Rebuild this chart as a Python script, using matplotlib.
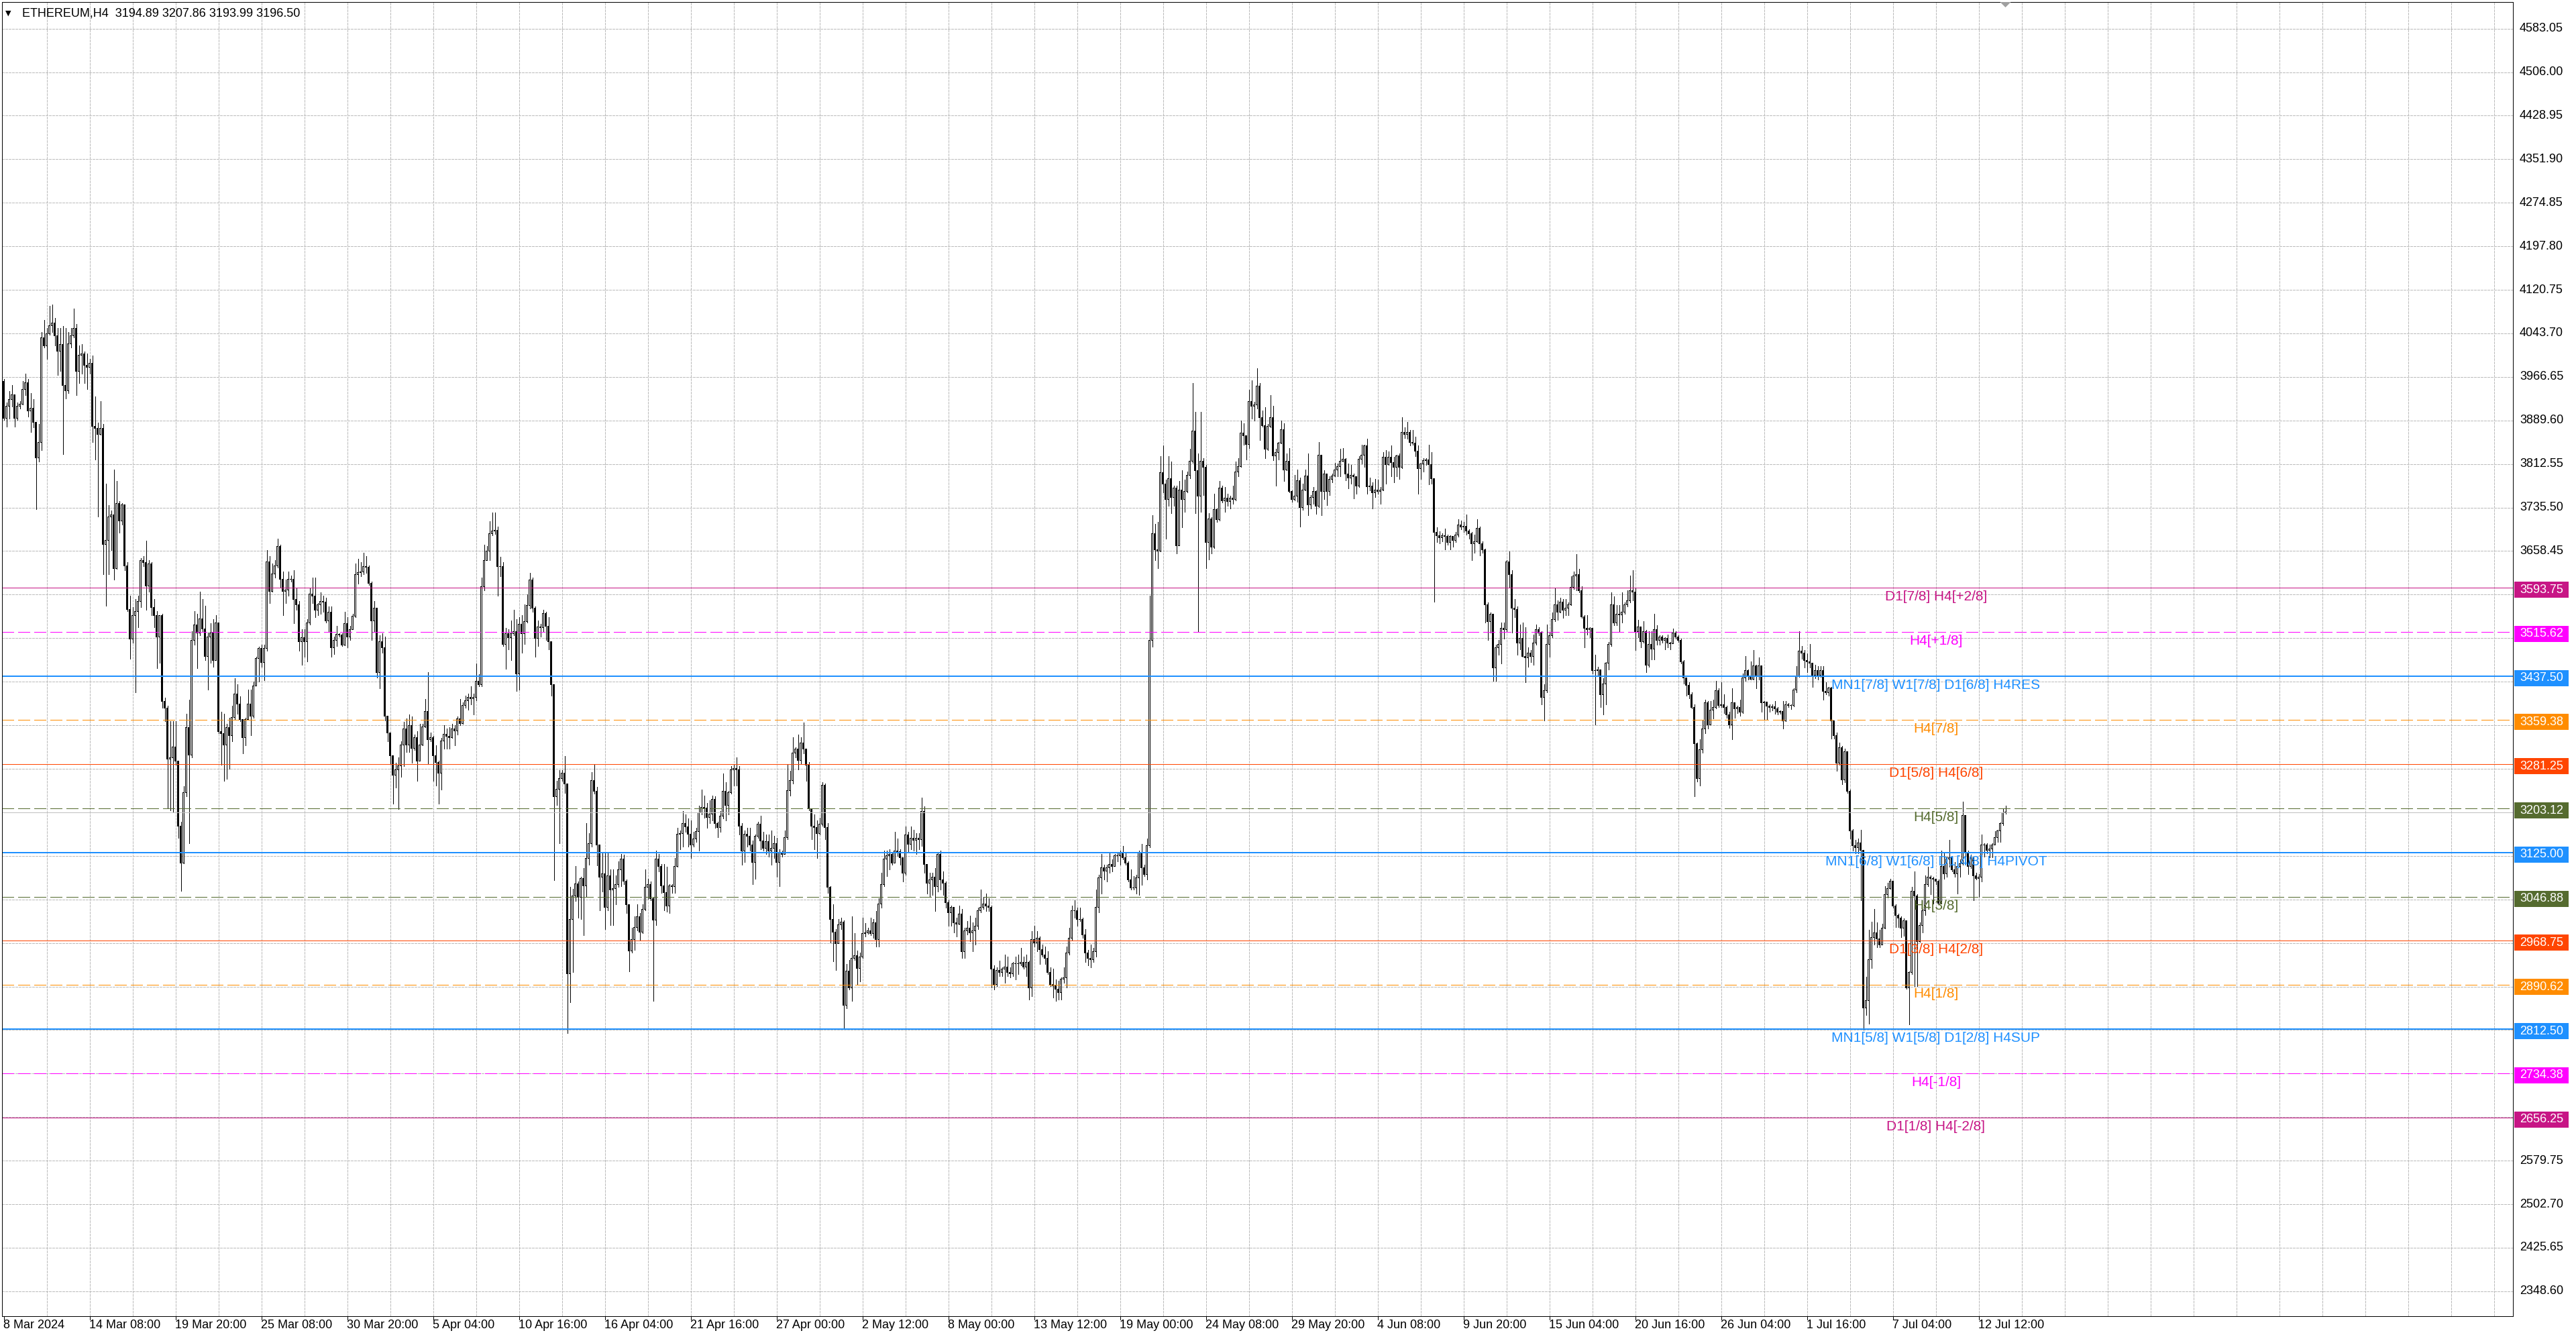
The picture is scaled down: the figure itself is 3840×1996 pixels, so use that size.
import numpy as np
import matplotlib
matplotlib.use("Agg")
import matplotlib.pyplot as plt
from matplotlib.collections import LineCollection, PolyCollection
from matplotlib.patches import Rectangle, Polygon
from matplotlib.lines import Line2D
from matplotlib.transforms import blended_transform_factory

plt.rcParams['font.family'] = ['Liberation Sans', 'DejaVu Sans']

# ---------------- data ----------------
symbol = "ETHEREUM,H4"
last_ohlc = [3194.89, 3207.86, 3193.99, 3196.50]
first_open = 3959.0

close = [
3893,3915,3927,3935,3893,3915,3918,3945,3956,3907,
3911,3886,3824,3851,4036,4022,4043,4057,4062,4039,
4012,4024,3952,3942,4025,4039,4053,3977,4005,4008,
3987,3984,3991,3879,3876,3865,3876,3670,3677,3719,
3722,3627,3743,3712,3740,3632,3555,3503,3545,3552,
3569,3642,3638,3597,3636,3559,3545,3507,3545,3392,
3381,3291,3293,3312,3287,3172,3106,3231,3346,3298,
3500,3528,3514,3538,3521,3472,3507,3514,3465,3531,
3339,3336,3315,3346,3332,3364,3406,3388,3360,3329,
3360,3388,3367,3420,3468,3486,3461,3486,3639,3587,
3618,3632,3667,3608,3587,3590,3608,3609,3573,3563,
3498,3505,3498,3532,3582,3579,3554,3563,3570,3568,
3535,3551,3488,3501,3511,3510,3492,3530,3507,3520,
3543,3617,3620,3622,3631,3630,3601,3535,3557,3444,
3498,3488,3366,3337,3296,3262,3271,3278,3315,3344,
3315,3350,3309,3328,3287,3315,3347,3375,3325,3329,
3296,3284,3265,3322,3334,3331,3328,3344,3340,3362,
3353,3386,3394,3400,3397,3400,3428,3422,3595,3642,
3658,3689,3694,3695,3631,3631,3494,3513,3505,3513,
3516,3441,3529,3513,3534,3562,3607,3557,3504,3524,
3523,3548,3526,3498,3422,3224,3237,3256,3266,3247,
2910,3007,3048,3070,3046,3079,3066,3115,3141,3252,
3234,3139,3082,3087,3028,3084,3059,3061,3069,3095,
3113,3074,3033,2951,2971,2992,3012,2984,3025,3064,
3069,3043,3005,3113,3100,3066,3054,3030,3066,3065,
3101,3157,3159,3177,3171,3158,3139,3149,3162,3195,
3205,3204,3187,3193,3219,3177,3169,3190,3234,3208,
3231,3272,3274,3272,3172,3128,3157,3154,3139,3108,
3154,3175,3146,3133,3144,3128,3133,3141,3108,3126,
3122,3151,3235,3252,3301,3308,3288,3319,3308,3280,
3203,3172,3169,3159,3175,3244,3169,3064,3007,2984,
2964,2997,3002,2855,2915,2886,2938,2943,2920,2940,
2982,2983,2986,2982,3001,2971,3034,3068,3113,3119,
3122,3107,3128,3127,3116,3089,3156,3140,3150,3147,
3150,3148,3198,3104,3071,3077,3082,3065,3122,3077,
3071,3037,3019,3028,3001,2998,3016,2950,2986,2991,
2983,2987,2995,3022,3028,3034,3031,3028,2919,2892,
2916,2913,2919,2922,2913,2910,2928,2928,2928,2931,
2922,2931,2886,2971,2965,2974,2953,2944,2938,2913,
2892,2889,2883,2877,2901,2904,2947,2974,3022,3022,
3007,3007,2980,2947,2938,2935,2950,3028,3080,3098,
3092,3098,3104,3101,3119,3119,3125,3116,3107,3077,
3062,3062,3080,3125,3098,3086,3137,3501,3689,3661,
3659,3797,3777,3750,3787,3754,3770,3668,3766,3750,
3764,3793,3817,3871,3801,3756,3817,3807,3674,3716,
3666,3732,3714,3770,3748,3752,3746,3752,3750,3799,
3808,3867,3863,3847,3923,3915,3917,3950,3895,3881,
3839,3879,3895,3827,3833,3849,3873,3802,3817,3764,
3750,3756,3783,3736,3766,3791,3740,3754,3764,3738,
3828,3764,3795,3764,3786,3791,3802,3808,3817,3821,
3795,3788,3793,3790,3774,3821,3828,3845,3772,3774,
3762,3767,3764,3766,3825,3811,3825,3815,3807,3827,
3807,3869,3865,3869,3851,3850,3835,3805,3813,3819,
3820,3811,3787,3692,3686,3682,3686,3684,3674,3684,
3677,3687,3705,3701,3702,3694,3689,3671,3675,3699,
3671,3661,3563,3534,3547,3452,3488,3493,3522,3520,
3640,3617,3558,3555,3496,3504,3472,3470,3478,3472,
3496,3519,3514,3400,3412,3493,3509,3537,3563,3551,
3568,3554,3558,3564,3594,3614,3617,3589,3542,3522,
3520,3522,3447,3447,3448,3405,3423,3460,3493,3563,
3532,3547,3546,3551,3563,3571,3588,3586,3516,3524,
3498,3516,3457,3493,3485,3519,3501,3507,3501,3504,
3496,3495,3514,3506,3500,3462,3434,3421,3404,3382,
3318,3256,3307,3344,3390,3351,3377,3382,3411,3385,
3387,3382,3369,3351,3390,3380,3382,3374,3434,3447,
3436,3432,3455,3436,3455,3390,3391,3384,3382,3383,
3379,3374,3375,3358,3387,3385,3385,3413,3436,3481,
3478,3465,3463,3460,3439,3447,3439,3447,3410,3408,
3416,3358,3332,3283,3311,3254,3304,3233,3163,3137,
3134,3142,3129,2850,2863,2936,2975,2983,2972,2962,
2991,3051,3061,3074,3030,3014,3009,2991,3004,2886,
2913,3056,3048,2967,2996,3022,3069,3082,3079,3078,
3074,3035,3100,3087,3113,3116,3095,3087,3100,3105,
3191,3126,3100,3116,3084,3079,3082,3139,3139,3129,
3131,3139,3152,3163,3176,3194.89,3196.50,
]

high = [
3963,3921,3941,3952,3929,3921,3924,3959,3973,3963,
3938,3927,3883,3883,4046,4067,4053,4092,4095,4071,
4053,4053,4057,4053,4046,4053,4088,4060,4022,4025,
4012,4008,3998,4004,3932,3886,3924,3883,3778,3740,
3730,3803,3782,3747,3743,3681,3639,3580,3559,3573,
3580,3646,3649,3677,3642,3639,3573,3552,3545,3548,
3399,3385,3357,3357,3357,3287,3179,3242,3371,3395,
3517,3552,3548,3587,3573,3562,3514,3531,3538,3545,
3472,3374,3371,3353,3364,3385,3434,3423,3402,3360,
3364,3413,3413,3427,3472,3489,3493,3493,3660,3649,
3636,3642,3681,3670,3622,3608,3622,3615,3625,3592,
3570,3520,3520,3538,3592,3611,3612,3567,3585,3579,
3576,3560,3560,3507,3526,3513,3513,3551,3542,3526,
3548,3636,3645,3639,3655,3650,3633,3604,3570,3557,
3510,3513,3507,3366,3337,3296,3284,3293,3322,3356,
3362,3369,3366,3334,3340,3353,3353,3397,3444,3337,
3331,3315,3287,3328,3350,3344,3347,3353,3350,3366,
3397,3391,3403,3406,3419,3406,3460,3441,3611,3670,
3667,3711,3727,3727,3702,3648,3639,3523,3520,3535,
3554,3538,3542,3545,3564,3582,3620,3611,3560,3535,
3530,3554,3551,3542,3498,3422,3252,3271,3271,3296,
3247,3064,3061,3101,3074,3082,3097,3177,3159,3267,
3280,3241,3139,3126,3126,3126,3095,3095,3084,3110,
3123,3121,3077,3033,2992,3012,3033,3018,3033,3095,
3079,3074,3046,3128,3123,3105,3105,3100,3069,3069,
3115,3169,3164,3198,3193,3185,3182,3162,3169,3208,
3236,3226,3213,3218,3226,3224,3180,3198,3265,3249,
3234,3278,3280,3293,3278,3177,3164,3169,3169,3146,
3157,3180,3190,3162,3157,3157,3164,3154,3151,3131,
3128,3164,3280,3270,3329,3311,3334,3329,3355,3308,
3285,3203,3193,3182,3187,3249,3247,3177,3066,3033,
2989,3007,3010,3005,2928,2935,3012,2982,2951,2948,
3010,3000,2992,3010,3007,3022,3044,3089,3128,3128,
3131,3125,3162,3150,3131,3116,3171,3162,3171,3165,
3159,3159,3222,3207,3104,3089,3089,3098,3125,3128,
3092,3074,3040,3031,3028,3010,3031,3025,2992,3004,
3013,3001,3010,3028,3059,3047,3053,3044,3031,2925,
2922,2934,2922,2944,2941,2922,2931,2941,2944,2956,
2941,2944,2934,2986,2995,2986,2977,2962,2959,2950,
2922,2919,2901,2898,2904,2922,2959,2992,3031,3041,
3028,3028,3010,2989,2953,2962,2956,3059,3086,3122,
3104,3104,3125,3113,3122,3125,3128,3137,3125,3110,
3095,3083,3086,3128,3140,3104,3150,3580,3722,3707,
3710,3827,3845,3785,3827,3817,3774,3774,3783,3801,
3785,3799,3839,3956,3905,3831,3905,3823,3811,3726,
3718,3760,3734,3783,3774,3772,3760,3756,3774,3817,
3823,3889,3885,3861,3944,3960,3923,3982,3956,3907,
3913,3883,3934,3915,3839,3851,3889,3885,3831,3841,
3766,3793,3803,3788,3778,3803,3831,3758,3772,3766,
3851,3829,3801,3793,3791,3795,3815,3813,3839,3841,
3823,3813,3811,3795,3778,3827,3847,3847,3857,3788,
3780,3786,3785,3772,3833,3837,3835,3845,3825,3829,
3831,3895,3877,3887,3873,3873,3861,3845,3815,3823,
3823,3847,3833,3787,3700,3694,3690,3698,3688,3686,
3684,3692,3715,3712,3710,3723,3697,3692,3687,3715,
3702,3676,3663,3568,3550,3542,3493,3501,3532,3532,
3643,3658,3625,3573,3560,3529,3532,3524,3488,3483,
3511,3529,3524,3516,3423,3529,3514,3550,3594,3571,
3576,3573,3573,3568,3614,3622,3653,3627,3596,3545,
3545,3524,3516,3475,3454,3447,3434,3462,3498,3586,
3578,3563,3563,3586,3568,3589,3615,3625,3594,3537,
3519,3534,3519,3516,3516,3547,3527,3509,3509,3506,
3511,3498,3521,3517,3509,3503,3465,3434,3426,3408,
3387,3320,3326,3359,3395,3393,3393,3395,3429,3416,
3426,3405,3385,3374,3416,3382,3385,3395,3442,3473,
3449,3463,3483,3457,3470,3436,3393,3390,3387,3387,
3393,3382,3377,3393,3393,3390,3387,3416,3455,3517,
3491,3483,3478,3494,3460,3457,3455,3455,3455,3426,
3418,3418,3358,3337,3319,3314,3309,3304,3236,3166,
3147,3150,3165,3108,2905,2988,3003,3025,3001,2988,
2999,3066,3072,3079,3051,3033,3017,3012,3009,2996,
2915,3064,3092,3051,3001,3025,3085,3100,3085,3082,
3079,3077,3129,3126,3118,3147,3118,3108,3116,3113,
3215,3191,3129,3121,3100,3089,3087,3157,3142,3142,
3139,3142,3163,3165,3178,3202,3207.86,
]

low = [
3890,3879,3893,3914,3879,3890,3911,3936,3934,3897,
3869,3878,3733,3817,3837,4019,3998,4041,4046,4022,
3970,3977,3830,3928,3938,4019,4036,3935,3956,3973,
3956,3945,3973,3851,3820,3719,3867,3618,3562,3618,
3660,3608,3663,3691,3705,3625,3552,3468,3496,3409,
3524,3559,3632,3555,3587,3545,3524,3451,3461,3381,
3357,3204,3200,3197,3280,3151,3057,3106,3225,3141,
3294,3493,3451,3510,3517,3465,3413,3461,3454,3465,
3336,3280,3252,3256,3273,3322,3360,3371,3357,3301,
3315,3360,3332,3364,3420,3427,3454,3430,3482,3566,
3594,3611,3629,3594,3545,3566,3580,3604,3531,3554,
3482,3457,3472,3463,3529,3567,3542,3545,3548,3551,
3532,3516,3472,3476,3491,3507,3491,3529,3488,3501,
3523,3542,3601,3614,3617,3620,3598,3501,3516,3435,
3416,3479,3359,3322,3281,3212,3240,3202,3259,3278,
3303,3303,3284,3306,3252,3287,3331,3347,3281,3322,
3252,3243,3212,3237,3309,3309,3309,3328,3315,3334,
3350,3378,3381,3378,3387,3369,3394,3419,3419,3589,
3642,3642,3686,3689,3579,3614,3491,3450,3485,3466,
3510,3411,3413,3479,3494,3532,3557,3551,3472,3491,
3507,3516,3501,3485,3403,3076,3209,3142,3252,3230,
2806,2860,2913,3039,3010,3007,2979,3048,3103,3136,
3229,3102,3023,3056,2989,3023,2997,2997,3033,3064,
3066,3069,3018,2915,2948,2953,2987,2969,2982,3023,
3043,3041,2863,2997,3092,3054,3023,3020,3018,3054,
3054,3100,3131,3136,3162,3136,3115,3136,3144,3128,
3193,3187,3169,3177,3182,3169,3152,3162,3185,3182,
3193,3229,3244,3244,3157,3103,3108,3136,3128,3069,
3079,3151,3131,3128,3123,3118,3103,3115,3082,3066,
3118,3128,3149,3226,3247,3293,3272,3283,3301,3252,
3200,3149,3131,3115,3157,3172,3149,3054,2966,2933,
2917,2966,2989,2814,2850,2883,2863,2935,2891,2897,
2938,2976,2981,2979,2974,2959,2959,3028,3065,3083,
3095,3104,3125,3119,3104,3074,3086,3125,3131,3128,
3122,3131,3137,3089,3053,3047,3050,3022,3056,3059,
3050,3028,2995,2995,2983,2977,2998,2938,2938,2980,
2968,2950,2962,2989,3019,3025,3022,3022,2886,2883,
2889,2907,2907,2895,2907,2904,2907,2901,2910,2925,
2919,2907,2865,2871,2959,2950,2928,2941,2928,2910,
2889,2868,2862,2865,2865,2895,2886,2944,2971,3010,
2995,3004,2974,2931,2925,2922,2931,2941,3019,3053,
3077,3074,3089,3092,3107,3110,3104,3113,3104,3074,
3059,3059,3053,3050,3068,3083,3077,3134,3489,3643,
3628,3658,3762,3680,3738,3726,3738,3654,3668,3700,
3728,3762,3787,3815,3726,3517,3728,3758,3628,3644,
3654,3664,3710,3712,3744,3728,3738,3734,3742,3748,
3791,3807,3847,3821,3841,3893,3889,3911,3855,3879,
3823,3837,3877,3819,3774,3821,3849,3782,3801,3762,
3746,3748,3746,3702,3732,3766,3722,3734,3742,3724,
3736,3722,3750,3740,3758,3780,3791,3791,3791,3819,
3784,3770,3778,3752,3760,3772,3813,3807,3760,3766,
3734,3754,3760,3742,3766,3778,3811,3791,3780,3791,
3786,3805,3859,3857,3845,3847,3827,3760,3786,3799,
3811,3776,3778,3569,3674,3672,3676,3662,3670,3662,
3666,3674,3684,3697,3692,3687,3681,3643,3656,3674,
3651,3656,3532,3501,3514,3429,3429,3475,3460,3503,
3516,3594,3514,3542,3475,3485,3471,3426,3454,3462,
3457,3493,3509,3387,3359,3408,3472,3506,3534,3537,
3550,3540,3545,3545,3563,3591,3589,3586,3540,3488,
3511,3506,3442,3351,3439,3382,3369,3387,3449,3491,
3527,3527,3516,3532,3547,3560,3568,3571,3483,3506,
3488,3496,3444,3454,3467,3467,3493,3493,3496,3485,
3488,3485,3501,3503,3498,3460,3424,3403,3398,3380,
3225,3251,3243,3302,3336,3344,3351,3362,3380,3382,
3382,3372,3364,3346,3326,3364,3372,3367,3372,3429,
3431,3431,3431,3416,3431,3374,3361,3361,3374,3377,
3371,3369,3371,3345,3358,3382,3379,3384,3408,3436,
3468,3452,3444,3452,3418,3434,3431,3436,3395,3405,
3403,3327,3327,3270,3280,3246,3249,3231,3150,3129,
3124,3124,3040,2811,2837,2822,2921,2962,2957,2957,
2962,2991,3045,3064,3027,2993,2993,2975,2978,2884,
2821,2910,2889,2889,2967,2983,3014,3066,3051,3035,
3069,3034,3035,3079,3082,3100,3092,3082,3053,3082,
3103,3118,3087,3097,3040,3077,3046,3074,3118,3124,
3116,3116,3142,3144,3144,3173,3193.99,
]

time_labels = ["8 Mar 2024", "14 Mar 08:00", "19 Mar 20:00", "25 Mar 08:00",
               "30 Mar 20:00", "5 Apr 04:00", "10 Apr 16:00", "16 Apr 04:00",
               "21 Apr 16:00", "27 Apr 00:00", "2 May 12:00", "8 May 00:00",
               "13 May 12:00", "19 May 00:00", "24 May 08:00", "29 May 20:00",
               "4 Jun 08:00", "9 Jun 20:00", "15 Jun 04:00", "20 Jun 16:00",
               "26 Jun 04:00", "1 Jul 16:00", "7 Jul 04:00", "12 Jul 12:00"]

price_ticks = [4583.05, 4506.00, 4428.95, 4351.90, 4274.85, 4197.80, 4120.75,
               4043.70, 3966.65, 3889.60, 3812.55, 3735.50, 3658.45, 3581.40,
               3504.35, 3427.30, 3350.25, 3273.20, 3196.15, 3119.10, 3042.05,
               2965.00, 2887.95, 2810.90, 2733.85, 2656.80, 2579.75, 2502.70,
               2425.65, 2348.60]

levels = [3593.75, 3515.62, 3437.50, 3359.38, 3281.25, 3203.12, 3125.00,
          3046.88, 2968.75, 2890.62, 2812.50, 2734.38, 2656.25]
level_names = ["D1[7/8] H4[+2/8]", "H4[+1/8]", "MN1[7/8] W1[7/8] D1[6/8] H4RES",
               "H4[7/8]", "D1[5/8] H4[6/8]", "H4[5/8]",
               "MN1[6/8] W1[6/8] D1[4/8] H4PIVOT", "H4[3/8]", "D1[3/8] H4[2/8]",
               "H4[1/8]", "MN1[5/8] W1[5/8] D1[2/8] H4SUP", "H4[-1/8]",
               "D1[1/8] H4[-2/8]"]
level_colors = ["#C71585", "#FF00FF", "#1E90FF", "#FF8C00", "#FF4500", "#556B2F",
                "#1E90FF", "#556B2F", "#FF4500", "#FF8C00", "#1E90FF", "#FF00FF",
                "#C71585"]
level_dashed = [False, True, False, True, False, True, False, True, False, True,
                False, True, False]
level_width_px = [1, 1, 2, 1, 1, 1, 2, 1, 1, 1, 2, 1, 1]
bid_price = 3196.50

# ---------------- layout (pixels) ----------------
W, H, DPI = 3840, 1996, 100
PX = 72.0 / DPI
L_PX, R_PX, T_PX, B_PX = 3, 3746, 3, 1962
BAR0_PX, BAR_STEP = 5.5, 4.0
REF_PRICE, REF_Y, PPP = 3593.75, 876.0, 1.1871
LABEL_STEP = 32
GRID_STEP = 16
AX_LABEL_X = 3756
BOX_X0, BOX_W, BOX_H, BOX_DY = 3748, 81, 24, 3
LEVEL_TXT_PX = 2886

fig = plt.figure(figsize=(W / DPI, H / DPI), dpi=DPI, facecolor="white")
ax = fig.add_axes([L_PX / W, 1 - B_PX / H, (R_PX - L_PX) / W, (B_PX - T_PX) / H])
xmin = (L_PX - BAR0_PX) / BAR_STEP
xmax = (R_PX - BAR0_PX) / BAR_STEP
ax.set_xlim(xmin, xmax)
ax.set_ylim(REF_PRICE - (B_PX - REF_Y) * PPP, REF_PRICE + (REF_Y - T_PX) * PPP)
ax.set_xticks([])
ax.set_yticks([])
ax.set_facecolor("white")
for s in ax.spines.values():
    s.set_color("black")
    s.set_linewidth(PX)
    s.set_zorder(20)

# grid
for p in price_ticks:
    ax.axhline(p, color="#BDBDBD", lw=PX, ls=(0, (3, 2)), zorder=1, antialiased=False)
for gx in np.arange(GRID_STEP, xmax, GRID_STEP):
    ax.axvline(gx, color="#BDBDBD", lw=PX, ls=(0, (3, 2)), zorder=1, antialiased=False)

# candles
n = min(len(close), len(high), len(low))
c = np.array(close[:n], float)
o = np.concatenate([[first_open], c[:-1]])
h = np.maximum.reduce([np.array(high[:n], float), o, c])
l = np.minimum.reduce([np.array(low[:n], float), o, c])
x = np.arange(n)

segs = [((xi, li), (xi, hi)) for xi, li, hi in zip(x, l, h)]
ax.add_collection(LineCollection(segs, colors="black", linewidths=PX,
                                 antialiaseds=False, zorder=3))

half_out = 1.5 / BAR_STEP     # 3 px wide body
half_in = 0.5 / BAR_STEP      # 1 px hollow interior
edge = 0.5 * PPP              # half-pixel in price units
outer, inner = [], []
for xi, oi, ci in zip(x, o, c):
    top, bot = max(oi, ci) + edge, min(oi, ci) - edge
    outer.append([(xi - half_out, bot), (xi + half_out, bot),
                  (xi + half_out, top), (xi - half_out, top)])
    if ci > oi and (ci - oi) > 1.2 * PPP:
        it, ib = ci - edge, oi + edge
        inner.append([(xi - half_in, ib), (xi + half_in, ib),
                      (xi + half_in, it), (xi - half_in, it)])
ax.add_collection(PolyCollection(outer, facecolors="black", edgecolors="none",
                                 zorder=4))
ax.add_collection(PolyCollection(inner, facecolors="white", edgecolors="none",
                                 zorder=4.5))

# bid line
ax.axhline(bid_price, color="#C0C0C0", lw=PX, zorder=5, antialiased=False)

# level lines + labels
txt_x = (LEVEL_TXT_PX - BAR0_PX) / BAR_STEP
for p, name, col, dashed, wpx in zip(levels, level_names, level_colors,
                                     level_dashed, level_width_px):
    ls = (0, (18 / wpx, 6 / wpx)) if dashed else "-"
    ax.axhline(p, color=col, lw=wpx * PX, ls=ls, zorder=6, antialiased=False)
    ax.annotate(name, xy=(txt_x, p), xytext=(0, -4 * PX), textcoords="offset points",
                ha="center", va="top", fontsize=15, color=col, zorder=7,
                annotation_clip=False)

# price axis labels
tr_fy = blended_transform_factory(fig.transFigure, ax.transData)
for p in price_ticks:
    if min(abs(p - lv) for lv in levels) / PPP < 20:
        continue
    ax.text(AX_LABEL_X / W, p, f"{p:.2f}", transform=tr_fy, ha="left",
            va="center", fontsize=13, color="black", clip_on=False)
for p, col in zip(levels, level_colors):
    yc = p - BOX_DY * PPP
    ax.add_patch(Rectangle((BOX_X0 / W, yc - BOX_H / 2 * PPP), BOX_W / W, BOX_H * PPP,
                           transform=tr_fy, facecolor=col, edgecolor="none",
                           clip_on=False, zorder=8))
    ax.text(AX_LABEL_X / W, yc, f"{p:.2f}", transform=tr_fy, ha="left",
            va="center", fontsize=13, color="white", clip_on=False, zorder=9)

# time axis labels
tr_xf = blended_transform_factory(ax.transData, fig.transFigure)
for k, lab in enumerate(time_labels):
    xi = k * LABEL_STEP
    ax.text(xi - 0.1, 1 - 1975 / H, lab, transform=tr_xf, ha="left", va="center",
            fontsize=13, color="black", clip_on=False)
    ax.add_line(Line2D([xi, xi], [1 - B_PX / H, 1 - (B_PX + 5) / H],
                       transform=tr_xf, color="black", lw=PX, clip_on=False))

# title
fig.text(8 / W, 1 - 20 / H, "\u25BC", fontsize=8, family="DejaVu Sans",
         va="center", ha="left", color="black")
fig.text(33 / W, 1 - 20 / H,
         f"{symbol}  {last_ohlc[0]:.2f} {last_ohlc[1]:.2f} {last_ohlc[2]:.2f} {last_ohlc[3]:.2f}",
         fontsize=13, va="center", ha="left", color="black")

# chart-shift marker
sx = BAR0_PX + (n - 1) * BAR_STEP
fig.patches.append(Polygon([[(sx - 8) / W, 1 - 3 / H], [(sx + 8) / W, 1 - 3 / H],
                            [sx / W, 1 - 11 / H]], closed=True,
                           transform=fig.transFigure, facecolor="#A0A0A0",
                           edgecolor="none"))

fig.savefig("out.png", dpi=DPI, facecolor="white")
